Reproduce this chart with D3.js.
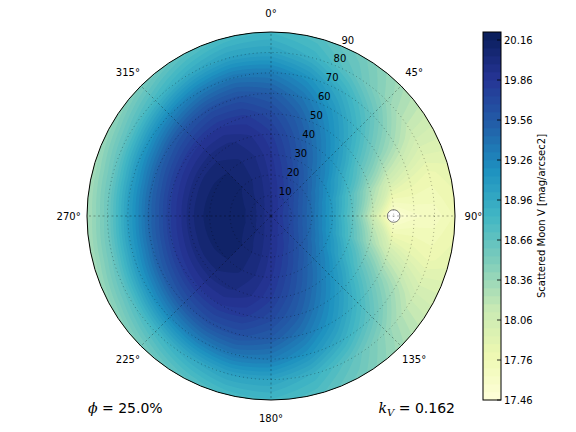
<!DOCTYPE html>
<html><head><meta charset="utf-8">
<script src="https://cdn.jsdelivr.net/npm/d3@7"></script>
<style>body{margin:0;background:#fff}svg{display:block}text{font-family:"DejaVu Sans",sans-serif;fill:#000}</style>
</head><body>
<svg id="chart" width="576" height="432"></svg>
<script>
// ---------------- data ----------------
const azimuths = [0,15,30,45,60,75,90,105,120,135,150,165,180,195,210,225,240,255,270,285,300,315,330,345];
const zeniths = [0,10,20,30,40,50,60,70,80,90];
// Scattered moon V brightness [mag/arcsec2], one row per zenith distance, one column per azimuth
const moonV = [
 [19.93,19.93,19.93,19.93,19.93,19.93,19.93,19.93,19.93,19.93,19.93,19.93,19.93,19.93,19.93,19.93,19.93,19.93,19.93,19.93,19.93,19.93,19.93,19.93],
 [19.92,19.87,19.82,19.78,19.74,19.71,19.71,19.71,19.74,19.78,19.82,19.87,19.92,19.97,20.01,20.04,20.06,20.08,20.08,20.08,20.06,20.04,20.01,19.97],
 [19.90,19.81,19.70,19.60,19.51,19.45,19.42,19.45,19.51,19.60,19.70,19.81,19.90,19.99,20.05,20.10,20.13,20.15,20.16,20.15,20.13,20.10,20.05,19.99],
 [19.87,19.73,19.57,19.40,19.24,19.12,19.08,19.12,19.24,19.40,19.57,19.73,19.87,19.98,20.05,20.10,20.12,20.13,20.14,20.13,20.12,20.10,20.05,19.98],
 [19.81,19.64,19.44,19.21,18.96,18.74,18.64,18.74,18.96,19.21,19.44,19.64,19.81,19.93,20.00,20.02,20.02,20.01,20.01,20.01,20.02,20.02,20.00,19.93],
 [19.70,19.53,19.29,19.02,18.69,18.34,18.11,18.34,18.69,19.02,19.29,19.53,19.70,19.82,19.86,19.85,19.82,19.79,19.77,19.79,19.82,19.85,19.86,19.82],
 [19.55,19.37,19.13,18.83,18.47,18.02,17.46,18.02,18.47,18.83,19.13,19.37,19.55,19.64,19.65,19.60,19.53,19.47,19.45,19.47,19.53,19.60,19.65,19.64],
 [19.32,19.16,18.92,18.63,18.28,17.88,17.62,17.88,18.28,18.63,18.92,19.16,19.32,19.37,19.33,19.24,19.14,19.07,19.05,19.07,19.14,19.24,19.33,19.37],
 [19.02,18.89,18.67,18.40,18.10,17.80,17.66,17.80,18.10,18.40,18.67,18.89,19.02,19.03,18.95,18.82,18.70,18.62,18.59,18.62,18.70,18.82,18.95,19.03],
 [18.83,18.74,18.56,18.32,18.07,17.86,17.77,17.86,18.07,18.32,18.56,18.74,18.83,18.79,18.68,18.53,18.40,18.31,18.28,18.31,18.40,18.53,18.68,18.79]
];
const levelMin = 17.46, levelStep = 0.06, levelCount = 47;
const cbTicks = [17.46,17.76,18.06,18.36,18.66,18.96,19.26,19.56,19.86,20.16];
const angleTicks = [0,45,90,135,180,225,270,315];
const radialTicks = [10,20,30,40,50,60,70,80,90];
const gridCircles = [10,20,30,40,50,60,70,80];
const moonPos = {az: 90, zen: 60};
const phaseText = " = 25.0%";
const kText = " = 0.162";
const cmapColors = ["#ffffd9","#edf8b1","#c7e9b4","#7fcdbb","#41b6c4","#1d91c0","#225ea8","#253494","#081d58"];

// ---------------- layout ----------------
const svg = d3.select("#chart");
const cx = 271, cy = 216, R = 184;
const levels = d3.range(levelCount).map(i => Math.round((levelMin + levelStep * i) * 100) / 100);
const lo = levels[0], hi = levels[levels.length - 1];
const cmap = d3.scaleLinear().domain(d3.range(9).map(i => i / 8)).range(cmapColors).interpolate(d3.interpolateRgb);
const bandColor = k => cmap(((levels[k] + levels[k + 1]) / 2 - lo) / (hi - lo));

const rScale = d3.scaleLinear().domain([0, 90]).range([0, R]);
function polar(az, zen) {
  const a = az * Math.PI / 180, r = rScale(zen);
  return [cx + r * Math.sin(a), cy - r * Math.cos(a)];
}

// ---------------- contour field ----------------
const nAz = azimuths.length, nx = nAz + 3, ny = zeniths.length;
const values = new Array(nx * ny);
for (let j = 0; j < ny; j++) for (let i = 0; i < nx; i++) {
  values[j * nx + i] = moonV[j][((i - 1) % nAz + nAz) % nAz];
}
const xToAz = d3.scaleLinear().domain([1.5, 2.5]).range([azimuths[0], azimuths[1]]);
const yToZen = d3.scaleLinear().domain([0.5, ny - 0.5]).range([zeniths[0], zeniths[ny - 1]]).clamp(true);
const xMin = 1.5, xMax = 1.5 + nAz;

function clipHalf(pts, inside, xc) {
  const out = [];
  for (let i = 0; i < pts.length; i++) {
    const cur = pts[i], prev = pts[(i + pts.length - 1) % pts.length];
    const ci = inside(cur), pi = inside(prev);
    const cut = () => { const t = (xc - prev[0]) / (cur[0] - prev[0]); return [xc, prev[1] + t * (cur[1] - prev[1])]; };
    if (ci) { if (!pi) out.push(cut()); out.push(cur); }
    else if (pi) out.push(cut());
  }
  return out;
}
function ringPath(ring) {
  let pts = ring.slice(0, -1);
  pts = clipHalf(pts, p => p[0] >= xMin, xMin);
  if (pts.length < 3) return "";
  pts = clipHalf(pts, p => p[0] <= xMax, xMax);
  if (pts.length < 3) return "";
  const out = [];
  for (let i = 0; i < pts.length; i++) {
    const p = pts[i], q = pts[(i + 1) % pts.length];
    const n = Math.max(1, Math.ceil(Math.max(Math.abs(q[0] - p[0]), Math.abs(q[1] - p[1])) * 8));
    for (let s = 0; s < n; s++) {
      const t = s / n;
      const gx = p[0] + t * (q[0] - p[0]), gy = p[1] + t * (q[1] - p[1]);
      out.push(polar(xToAz(gx), yToZen(gy)));
    }
  }
  return "M" + out.map(p => p[0].toFixed(2) + "," + p[1].toFixed(2)).join("L") + "Z";
}

const contours = d3.contours().size([nx, ny]).thresholds(levels.slice(0, -1))(values);

svg.append("clipPath").attr("id", "disk").append("circle").attr("cx", cx).attr("cy", cy).attr("r", R);
const field = svg.append("g").attr("clip-path", "url(#disk)");
contours.forEach((c, k) => {
  const d = c.coordinates.map(poly => poly.map(ringPath).join("")).join("");
  if (!d) return;
  field.append("path").attr("d", d).attr("fill", bandColor(k)).attr("fill-rule", "nonzero");
});

// moon marker
const mp = polar(moonPos.az, moonPos.zen);
svg.append("circle").attr("cx", mp[0]).attr("cy", mp[1]).attr("r", 6.3)
  .attr("fill", "#fff").attr("stroke", "#555").attr("stroke-width", 0.8);

// grid
const grid = svg.append("g").attr("fill", "none").attr("stroke", "#000").attr("stroke-opacity", 0.45).attr("stroke-width", 0.7);
gridCircles.forEach(z => {
  grid.append("circle").attr("cx", cx).attr("cy", cy).attr("r", rScale(z)).attr("stroke-dasharray", "1,3");
});
angleTicks.forEach(a => {
  const p = polar(a, 90);
  grid.append("line").attr("x1", cx).attr("y1", cy).attr("x2", p[0]).attr("y2", p[1]).attr("stroke-dasharray", "2,2.5");
});
svg.append("circle").attr("cx", cx).attr("cy", cy).attr("r", R).attr("fill", "none").attr("stroke", "#000").attr("stroke-width", 1);

// angle labels
angleTicks.forEach(a => {
  const a_ = a * Math.PI / 180, r = R * 1.1;
  svg.append("text").attr("x", cx + r * Math.sin(a_)).attr("y", cy - r * Math.cos(a_))
    .attr("text-anchor", "middle").attr("dominant-baseline", "central").attr("font-size", 10).text(a + "°");
});
// radial labels
radialTicks.forEach(z => {
  const p = polar(22.5, z);
  svg.append("text").attr("x", p[0]).attr("y", p[1] - 2.4).attr("font-size", 10).text(z);
});

// colorbar
const cbX = 483, cbW = 18, cbTop = 32, cbBot = 400;
const cbScale = d3.scaleLinear().domain([lo, hi]).range([cbBot, cbTop]);
const cb = svg.append("g");
for (let k = 0; k < levels.length - 1; k++) {
  cb.append("rect").attr("x", cbX).attr("width", cbW)
    .attr("y", cbScale(levels[k + 1])).attr("height", cbScale(levels[k]) - cbScale(levels[k + 1]) + 0.3)
    .attr("fill", bandColor(k));
}
cb.append("rect").attr("x", cbX).attr("y", cbTop).attr("width", cbW).attr("height", cbBot - cbTop)
  .attr("fill", "none").attr("stroke", "#000").attr("stroke-width", 1);
cbTicks.forEach(t => {
  const y = cbScale(t);
  cb.append("line").attr("x1", cbX + cbW - 4).attr("x2", cbX + cbW).attr("y1", y).attr("y2", y).attr("stroke", "#000").attr("stroke-width", 0.8);
  cb.append("text").attr("x", cbX + cbW + 3).attr("y", y).attr("dominant-baseline", "central").attr("font-size", 10).text(t.toFixed(2));
});
svg.append("text").attr("transform", "translate(541," + ((cbTop + cbBot) / 2) + ") rotate(-90)")
  .attr("text-anchor", "middle").attr("dominant-baseline", "central").attr("font-size", 10)
  .text("Scattered Moon V [mag/arcsec2]");

// annotations
const t1 = svg.append("text").attr("x", 88).attr("y", 413).attr("font-size", 14);
t1.append("tspan").attr("font-family", "DejaVu Serif").attr("font-style", "italic").text("ϕ");
t1.append("tspan").text(phaseText);
const t2 = svg.append("text").attr("x", 455).attr("y", 413).attr("font-size", 14).attr("text-anchor", "end");
t2.append("tspan").attr("font-family", "DejaVu Serif").attr("font-style", "italic").text("k");
t2.append("tspan").attr("font-family", "DejaVu Serif").attr("font-style", "italic").attr("font-size", 10).attr("dy", 3).text("V");
t2.append("tspan").attr("dy", -3).text(kText);
</script>
</body></html>
